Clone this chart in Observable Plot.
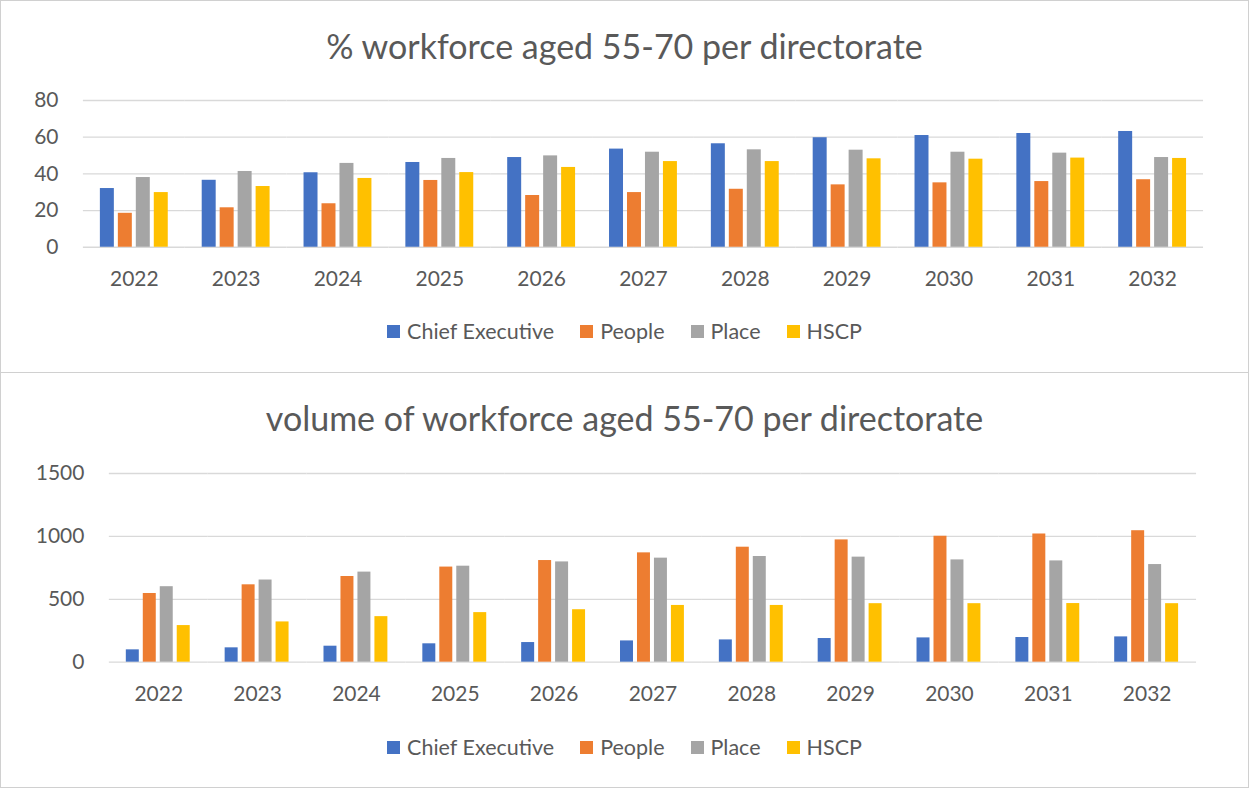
<!DOCTYPE html>
<html>
<head>
<meta charset="utf-8">
<script src="https://cdn.jsdelivr.net/npm/d3@7"></script>
<script src="https://cdn.jsdelivr.net/npm/@observablehq/plot@0.6"></script>
<style>
  html, body { margin: 0; padding: 0; background: #fff; }
  #root { position: relative; width: 1249px; height: 788px; overflow: hidden; font-family: Lato, "Open Sans", sans-serif; color: #595959; }
  .panel { position: absolute; left: 0; width: 1247px; border: 1px solid #d0d0d0; background: #fff; }
  .title { position: absolute; left: 0; width: 100%; text-align: center; font-size: 34px; line-height: 40px; white-space: nowrap; }
  .chart { position: absolute; left: 0; }
  .legend { position: absolute; left: 0; width: 100%; display: flex; justify-content: center; align-items: center; font-size: 21.5px; line-height: 26px; }
  .legend .item { display: flex; align-items: center; margin: 0 13px; }
  .legend .sw { width: 13px; height: 13px; margin-right: 7px; }
</style>
</head>
<body>
<div id="root">
  <div class="panel" id="p1" style="top:0; height:371px;">
    <div class="title" style="top:25px;">% workforce aged 55-70 per directorate</div>
    <div class="chart" id="c1" style="top:89px;"></div>
    <div class="legend" id="l1" style="top:317px;"></div>
  </div>
  <div class="panel" id="p2" style="top:372px; height:414px;">
    <div class="title" style="top:25px;">volume of workforce aged 55-70 per directorate</div>
    <div class="chart" id="c2" style="top:90px;"></div>
    <div class="legend" id="l2" style="top:361px;"></div>
  </div>
</div>
<script>
const years = ["2022","2023","2024","2025","2026","2027","2028","2029","2030","2031","2032"];
const seriesNames = ["Chief Executive", "People", "Place", "HSCP"];
const seriesColors = ["#4472C4", "#ED7D31", "#A5A5A5", "#FFC000"];

// % workforce aged 55-70
const pctChiefExecutive = [32, 36.5, 40.6, 46.2, 48.9, 53.5, 56.4, 59.7, 60.9, 62, 63.1];
const pctPeople         = [18.5, 21.5, 23.7, 36.4, 28.2, 29.8, 31.6, 34, 35.1, 35.8, 36.8];
const pctPlace          = [38, 41.3, 45.7, 48.4, 49.8, 51.8, 53.1, 52.9, 51.8, 51.3, 48.9];
const pctHSCP           = [29.8, 33.1, 37.5, 40.7, 43.5, 46.7, 46.7, 48.2, 48, 48.6, 48.4];
const pctTicks = [0, 20, 40, 60, 80];

// volume of workforce aged 55-70
const volChiefExecutive = [98, 114, 127, 146, 156, 169, 177, 188, 193, 196, 201];
const volPeople         = [546, 615, 681, 756, 808, 869, 914, 972, 1001, 1019, 1045];
const volPlace          = [600, 653, 716, 763, 797, 827, 840, 835, 813, 805, 776];
const volHSCP           = [291, 320, 362, 394, 417, 451, 451, 465, 465, 466, 465];
const volTicks = [0, 500, 1000, 1500];

function rows(seriesArrays) {
  return years.flatMap((yr, i) => seriesNames.map((s, k) => ({year: yr, series: s, value: seriesArrays[k][i]})));
}

function chart({data, ticks, width, height, plotHeight, marginLeft, marginRight, paddingOuter, paddingInner}) {
  return Plot.plot({
    width, height,
    marginLeft, marginRight, marginTop: 10, marginBottom: height - 10 - plotHeight,
    style: {fontSize: "21px", fontFamily: "Lato, 'Open Sans', sans-serif", color: "#595959", background: "transparent", overflow: "visible"},
    fx: {domain: years, padding: 0, label: null, tickSize: 0, tickPadding: 24},
    x: {domain: seriesNames, axis: null, paddingInner, paddingOuter},
    y: {domain: [ticks[0], ticks[ticks.length - 1]], ticks, tickSize: 0, tickPadding: 25, label: null, tickFormat: d => String(d)},
    color: {domain: seriesNames, range: seriesColors},
    marks: [
      Plot.ruleY(ticks, {stroke: "#d9d9d9", strokeWidth: 1.3}),
      Plot.barY(data, {fx: "year", x: "series", y: "value", fill: "series"})
    ]
  });
}

function legend(el) {
  seriesNames.forEach((s, k) => {
    const item = document.createElement("div");
    item.className = "item";
    const sw = document.createElement("div");
    sw.className = "sw";
    sw.style.background = seriesColors[k];
    const t = document.createElement("span");
    t.textContent = s;
    item.appendChild(sw); item.appendChild(t);
    el.appendChild(item);
  });
}

document.getElementById("c1").appendChild(chart({
  data: rows([pctChiefExecutive, pctPeople, pctPlace, pctHSCP]),
  ticks: pctTicks, width: 1249, height: 207, plotHeight: 147, marginLeft: 80, marginRight: 44,
  paddingInner: 0.214, paddingOuter: 0.842
}));
document.getElementById("c2").appendChild(chart({
  data: rows([volChiefExecutive, volPeople, volPlace, volHSCP]),
  ticks: volTicks, width: 1249, height: 249, plotHeight: 189, marginLeft: 104, marginRight: 48,
  paddingInner: 0.222, paddingOuter: 0.88
}));
legend(document.getElementById("l1"));
legend(document.getElementById("l2"));
</script>
</body>
</html>
